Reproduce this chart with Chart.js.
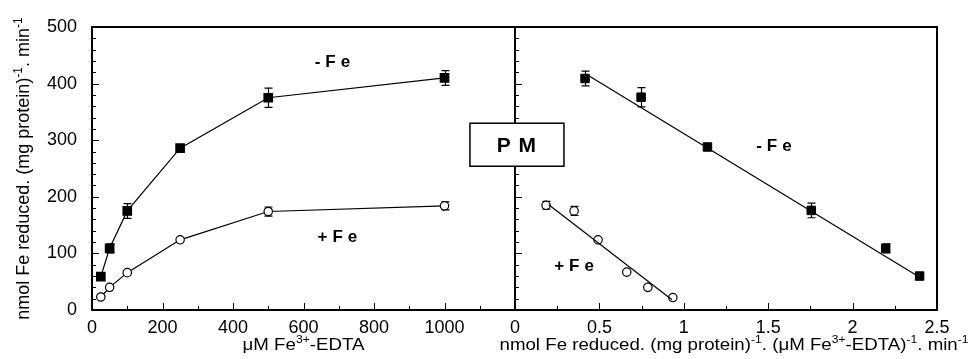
<!DOCTYPE html>
<html>
<head>
<meta charset="utf-8">
<script src="https://cdn.jsdelivr.net/npm/chart.js@4.4.0/dist/chart.umd.min.js"></script>
<style>
html, body { margin:0; padding:0; background:#fff; }
#wrap { position:relative; width:972px; height:359px; }
#wrap canvas { position:absolute; left:0; top:0; }
</style>
</head>
<body>
<div id="wrap">
<canvas id="left" width="972" height="359"></canvas>
<canvas id="right" width="972" height="359"></canvas>
</div>
<script>
// left panel: rate vs substrate
var conc = [25, 50, 100, 250, 500, 1000];
var rateMinusFe = [59, 109, 175, 286, 375, 410];
var errMinusFe = [0, 8, 13, 0, 17, 13];
var ratePlusFe = [23, 40, 66, 124, 174, 184];
var errPlusFe = [0, 0, 0, 0, 8, 7];

// right panel: Eadie-Hofstee
var ehXMinusFe = [0.415, 0.747, 1.14, 1.755, 2.196, 2.397];
var ehYMinusFe = [409, 376, 288, 176, 109, 60];
var ehErrMinusFe = [13, 17, 0, 13, 8, 0];
var ehXPlusFe = [0.184, 0.35, 0.492, 0.662, 0.787, 0.935];
var ehYPlusFe = [185, 175, 124, 67, 40, 22];
var ehErrPlusFe = [7, 8, 0, 0, 0, 0];
var fitMinusFeX = [0.425, 2.39];
var fitMinusFeY = [416, 59];
var fitPlusFeX = [0.20, 0.93];
var fitPlusFeY = [186, 18];

var leftTicks = ['0', '200', '400', '600', '800', '1000'];
var rightTicks = ['0', '0.5', '1', '1.5', '2', '2.5'];

// axis titles, [text, superscript?]
var yTitle = [['nmol Fe reduced. (mg protein)'], ['-1', 1], ['. min'], ['-1', 1]];
var xTitleLeft = [['\u03BCM Fe'], ['3+', 1], ['-EDTA']];
var xTitleRight = [['nmol Fe reduced. (mg protein)'], ['-1', 1], ['. (\u03BCM Fe'], ['3+', 1], ['-EDTA)'], ['-1', 1], ['. min'], ['-1', 1]];

var FONT = "'Liberation Sans', Arial, sans-serif";

function pts(xs, ys) {
	var out = [];
	for (var i = 0; i < xs.length; i++) out.push({x: xs[i], y: ys[i]});
	return out;
}

function richText(ctx, segs, cx, cy, rot, size, stretch) {
	var sup = Math.round(size * 0.65);
	var w = 0;
	segs.forEach(function(s) {
		ctx.font = (s[1] ? sup : size) + 'px ' + FONT;
		s.w = ctx.measureText(s[0]).width;
		w += s.w;
	});
	ctx.save();
	ctx.translate(cx, cy);
	if (rot) ctx.rotate(rot);
	ctx.scale(stretch, 1);
	ctx.textAlign = 'left';
	ctx.textBaseline = 'alphabetic';
	var x = -w / 2;
	segs.forEach(function(s) {
		ctx.font = (s[1] ? sup : size) + 'px ' + FONT;
		ctx.fillText(s[0], x, s[1] ? -1 : 6);
		x += s.w;
	});
	ctx.restore();
}

var errorBars = {
	id: 'errorBars',
	beforeDatasetsDraw: function(chart) {
		var ctx = chart.ctx;
		var xs = chart.scales.x, ys = chart.scales.y;
		ctx.save();
		ctx.strokeStyle = '#000';
		ctx.lineWidth = 1.2;
		chart.data.datasets.forEach(function(ds) {
			if (!ds.errors) return;
			ds.data.forEach(function(p, i) {
				var e = ds.errors[i];
				if (!e) return;
				var px = Math.round(xs.getPixelForValue(p.x)) + 0.5;
				var y1 = ys.getPixelForValue(p.y + e);
				var y2 = ys.getPixelForValue(p.y - e);
				ctx.beginPath();
				ctx.moveTo(px, y1); ctx.lineTo(px, y2);
				ctx.moveTo(px - 4, y1); ctx.lineTo(px + 4, y1);
				ctx.moveTo(px - 4, y2); ctx.lineTo(px + 4, y2);
				ctx.stroke();
			});
		});
		ctx.restore();
	}
};

var frame = {
	id: 'frame',
	afterDraw: function(chart, args, o) {
		var ctx = chart.ctx, a = chart.chartArea;
		var xs = chart.scales.x, ys = chart.scales.y;
		ctx.save();
		ctx.strokeStyle = '#000';
		ctx.lineWidth = 2;
		ctx.strokeRect(a.left, a.top, a.right - a.left, a.bottom - a.top);
		ctx.lineWidth = 1;
		ctx.beginPath();
		for (var v = o.y.min; v <= o.y.max; v += o.y.minor) {
			var py = Math.round(ys.getPixelForValue(v)) + 0.5;
			var len = (Math.abs(v % o.y.major) < 1e-6) ? 7 : 4;
			ctx.moveTo(a.left, py); ctx.lineTo(a.left + len, py);
		}
		for (var i = 0; ; i++) {
			var xv = o.x.min + i * o.x.minor;
			if (xv > o.x.max + 1e-9) break;
			var px = Math.round(xs.getPixelForValue(xv)) + 0.5;
			var r = xv / o.x.major;
			var len2 = (Math.abs(r - Math.round(r)) < 1e-6) ? 7 : 4;
			ctx.moveTo(px, a.bottom); ctx.lineTo(px, a.bottom - len2);
		}
		ctx.stroke();

		ctx.fillStyle = '#000';
		if (o.xTitle) richText(ctx, o.xTitle, (a.left + a.right) / 2 + (o.xTitleShift || 0), 344, 0, 17, 1.1);
		if (o.yTitle) richText(ctx, o.yTitle, 23, (a.top + a.bottom) / 2, -Math.PI / 2, 18, 1);

		if (o.box) {
			var bx1 = xs.getPixelForValue(o.box.x1), bx2 = xs.getPixelForValue(o.box.x2);
			var by1 = ys.getPixelForValue(o.box.y1), by2 = ys.getPixelForValue(o.box.y2);
			ctx.fillStyle = '#fff';
			ctx.fillRect(bx1, by1, bx2 - bx1, by2 - by1);
			ctx.lineWidth = 1.5;
			ctx.strokeRect(bx1, by1, bx2 - bx1, by2 - by1);
			ctx.fillStyle = '#000';
			ctx.font = 'bold 21px ' + FONT;
			ctx.textAlign = 'center';
			ctx.textBaseline = 'middle';
			ctx.letterSpacing = '1px';
			ctx.fillText(o.box.text, (bx1 + bx2) / 2, (by1 + by2) / 2 + 1);
		}
		ctx.fillStyle = '#000';
		ctx.font = 'bold 17px ' + FONT;
		ctx.textAlign = 'center';
		ctx.textBaseline = 'middle';
		ctx.letterSpacing = '5px';
		(o.labels || []).forEach(function(l) {
			ctx.fillText(l.text, xs.getPixelForValue(l.x) + 2.5, ys.getPixelForValue(l.y));
		});
		ctx.restore();
	}
};

Chart.defaults.font.family = FONT;
Chart.defaults.color = '#000';

function yScale(showLabels) {
	return {
		type: 'linear', min: 0, max: 500,
		display: showLabels,
		grid: { display: false, drawTicks: false },
		border: { display: false },
		ticks: { stepSize: 100, padding: 15, font: { size: 18 } },
		afterFit: function(s) { s.width = showLabels ? 92 : 0; }
	};
}

function xScale(max, step, names) {
	return {
		type: 'linear', min: 0, max: max,
		grid: { display: false, drawTicks: false },
		border: { display: false },
		ticks: {
			stepSize: step, padding: 7, maxRotation: 0, autoSkip: false, font: { size: 18 },
			callback: function(v) { return names[Math.round(v / step)] || ''; }
		},
		afterFit: function(s) { s.height = 49; }
	};
}

new Chart('left', {
	type: 'scatter',
	data: {
		datasets: [
			{
				data: pts(conc, rateMinusFe), errors: errMinusFe, showLine: true,
				borderColor: '#000', borderWidth: 1.2, pointStyle: 'rect', pointRadius: 6,
				pointBackgroundColor: '#000', pointBorderColor: '#000'
			},
			{
				data: pts(conc, ratePlusFe), errors: errPlusFe, showLine: true,
				borderColor: '#000', borderWidth: 1.2, pointStyle: 'circle', pointRadius: 4.2,
				pointBackgroundColor: '#fff', pointBorderColor: '#000', pointBorderWidth: 1.2
			}
		]
	},
	options: {
		responsive: false, animation: false, devicePixelRatio: 1,
		layout: { padding: { left: 0, top: 27, right: 457, bottom: 0 } },
		plugins: {
			legend: { display: false }, tooltip: { enabled: false },
			frame: {
				x: { min: 0, max: 1200, minor: 100, major: 200 },
				y: { min: 0, max: 500, minor: 20, major: 100 },
				xTitle: xTitleLeft, yTitle: yTitle,
				labels: [ { text: '-Fe', x: 682, y: 438 }, { text: '+Fe', x: 696, y: 129 } ]
			}
		},
		scales: {
			x: xScale(1200, 200, leftTicks),
			y: yScale(true)
		}
	},
	plugins: [errorBars, frame]
});

new Chart('right', {
	type: 'scatter',
	data: {
		datasets: [
			{
				data: pts(fitMinusFeX, fitMinusFeY), showLine: true, pointRadius: 0,
				borderColor: '#000', borderWidth: 1.2
			},
			{
				data: pts(fitPlusFeX, fitPlusFeY), showLine: true, pointRadius: 0,
				borderColor: '#000', borderWidth: 1.2
			},
			{
				data: pts(ehXMinusFe, ehYMinusFe), errors: ehErrMinusFe, showLine: false,
				pointStyle: 'rect', pointRadius: 6, pointBackgroundColor: '#000', pointBorderColor: '#000'
			},
			{
				data: pts(ehXPlusFe, ehYPlusFe), errors: ehErrPlusFe, showLine: false,
				pointStyle: 'circle', pointRadius: 4.2, pointBackgroundColor: '#fff',
				pointBorderColor: '#000', pointBorderWidth: 1.2
			}
		]
	},
	options: {
		responsive: false, animation: false, devicePixelRatio: 1,
		layout: { padding: { left: 515, top: 27, right: 35, bottom: 0 } },
		plugins: {
			legend: { display: false }, tooltip: { enabled: false },
			frame: {
				x: { min: 0, max: 2.5, minor: 0.25, major: 0.5 },
				y: { min: 0, max: 500, minor: 20, major: 100 },
				xTitle: xTitleRight, xTitleShift: 8,
				labels: [ { text: '-Fe', x: 1.534, y: 290 }, { text: '+Fe', x: 0.35, y: 78 } ],
				box: { x1: -0.267, x2: 0.29, y1: 330, y2: 254, text: 'P M' }
			}
		},
		scales: {
			x: xScale(2.5, 0.5, rightTicks),
			y: yScale(false)
		}
	},
	plugins: [errorBars, frame]
});
</script>
</body>
</html>
